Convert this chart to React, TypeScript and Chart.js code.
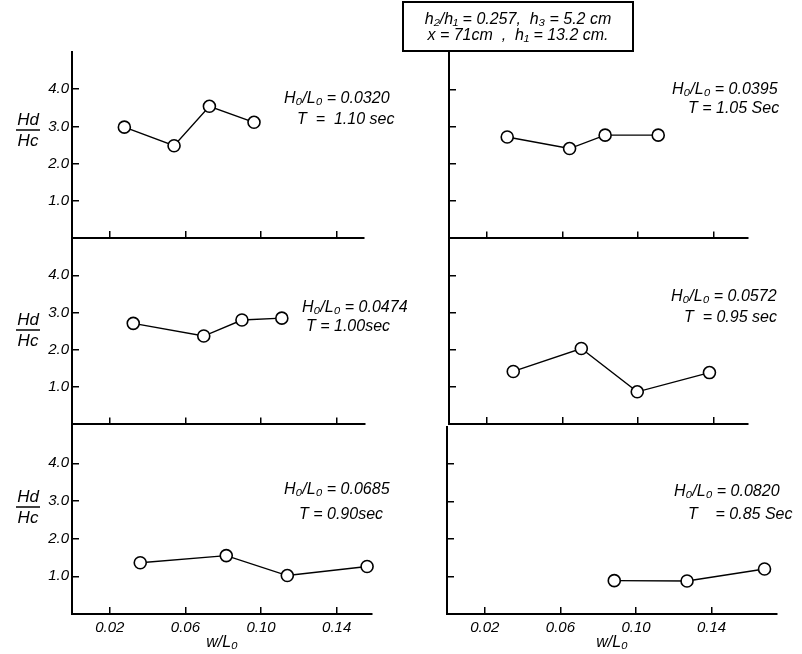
import React, { useEffect, useRef } from "react";
import { Chart, registerables } from "chart.js";

Chart.register(...registerables);

// ---- data ----
const xTickValues = [0.02, 0.06, 0.1, 0.14];
const yTickValues = [1, 2, 3, 4];

// w/Lo and Hd/Hc for each panel
const wTopLeft = [0.0277, 0.054, 0.0727, 0.0963];
const hTopLeft = [2.98, 2.48, 3.54, 3.11];

const wTopRight = [0.0308, 0.0638, 0.0826, 0.1107];
const hTopRight = [2.72, 2.41, 2.77, 2.77];

const wMidLeft = [0.0324, 0.0697, 0.0899, 0.111];
const hMidLeft = [2.71, 2.37, 2.8, 2.85];

const wMidRight = [0.034, 0.07, 0.0996, 0.1378];
const hMidRight = [1.42, 2.04, 0.87, 1.39];

const wBotLeft = [0.0361, 0.0816, 0.1139, 0.1561];
const hBotLeft = [1.36, 1.55, 1.02, 1.26];

const wBotRight = [0.0885, 0.127, 0.168];
const hBotRight = [0.89, 0.88, 1.2];

const FONT = "'Liberation Sans', 'DejaVu Sans', sans-serif";

type Note = { text: string; x: number; y: number };
type PanelCfg = {
  id: string;
  canvasLeft: number;
  canvasTop: number;
  canvasWidth: number;
  canvasHeight: number;
  axisX: number;
  plotRight: number;
  plotTop: number;
  plotBottom: number;
  xAxisH: number;
  xMax: number;
  xs: number[];
  ys: number[];
  showXLabels: boolean;
  showYLabels: boolean;
  notes: Note[];
  yLabelLine?: number;
  box?: boolean;
};

const panels: PanelCfg[] = [
  {
    id: "tl", canvasLeft: 0, canvasTop: 0, canvasWidth: 420, canvasHeight: 246,
    axisX: 72, plotRight: 364, plotTop: 52, plotBottom: 238, xAxisH: 0, xMax: 0.1545,
    xs: wTopLeft, ys: hTopLeft, showXLabels: false, showYLabels: true,
    notes: [
      { text: "H\u2080/L\u2080 = 0.0320", x: 284, y: 99 },
      { text: "T  =  1.10 sec", x: 297, y: 120 },
    ],
    yLabelLine: 130,
  },
  {
    id: "tr", canvasLeft: 400, canvasTop: 0, canvasWidth: 402, canvasHeight: 246,
    axisX: 449, plotRight: 748, plotTop: 52, plotBottom: 239, xAxisH: 0, xMax: 0.1582,
    xs: wTopRight, ys: hTopRight, showXLabels: false, showYLabels: false,
    notes: [
      { text: "H\u2080/L\u2080 = 0.0395", x: 672, y: 90 },
      { text: "T = 1.05 Sec", x: 688, y: 109 },
    ],
    box: true,
  },
  {
    id: "ml", canvasLeft: 0, canvasTop: 230, canvasWidth: 420, canvasHeight: 202,
    axisX: 72, plotRight: 365, plotTop: 238, plotBottom: 425, xAxisH: 0, xMax: 0.155,
    xs: wMidLeft, ys: hMidLeft, showXLabels: false, showYLabels: true,
    notes: [
      { text: "H\u2080/L\u2080 = 0.0474", x: 302, y: 308 },
      { text: "T = 1.00sec", x: 306, y: 327 },
    ],
    yLabelLine: 330,
  },
  {
    id: "mr", canvasLeft: 400, canvasTop: 230, canvasWidth: 402, canvasHeight: 202,
    axisX: 449, plotRight: 748, plotTop: 239, plotBottom: 424, xAxisH: 0, xMax: 0.1582,
    xs: wMidRight, ys: hMidRight, showXLabels: false, showYLabels: false,
    notes: [
      { text: "H\u2080/L\u2080 = 0.0572", x: 671, y: 297 },
      { text: "T  = 0.95 sec", x: 684, y: 318 },
    ],
  },
  {
    id: "bl", canvasLeft: 0, canvasTop: 418, canvasWidth: 420, canvasHeight: 236,
    axisX: 72, plotRight: 372, plotTop: 425.5, plotBottom: 614, xAxisH: 38, xMax: 0.1587,
    xs: wBotLeft, ys: hBotLeft, showXLabels: true, showYLabels: true,
    notes: [
      { text: "H\u2080/L\u2080 = 0.0685", x: 284, y: 490 },
      { text: "T = 0.90sec", x: 299, y: 515 },
    ],
    yLabelLine: 507,
  },
  {
    id: "br", canvasLeft: 400, canvasTop: 418, canvasWidth: 402, canvasHeight: 236,
    axisX: 447, plotRight: 777, plotTop: 426.5, plotBottom: 614, xAxisH: 38, xMax: 0.1746,
    xs: wBotRight, ys: hBotRight, showXLabels: true, showYLabels: false,
    notes: [
      { text: "H\u2080/L\u2080 = 0.0820", x: 674, y: 492 },
      { text: "T    = 0.85 Sec", x: 688, y: 515 },
    ],
  },
];

function Panel({ cfg }: { cfg: PanelCfg }) {
  const ref = useRef<HTMLCanvasElement | null>(null);

  useEffect(() => {
    const canvas = ref.current;
    if (!canvas) return;
    const yAxisW = cfg.axisX - cfg.canvasLeft;
    const padTop = cfg.plotTop - cfg.canvasTop;
    const padRight = cfg.canvasLeft + cfg.canvasWidth - cfg.plotRight;
    const padBottom = cfg.canvasTop + cfg.canvasHeight - cfg.plotBottom - cfg.xAxisH;

    const decor = {
      id: "decor_" + cfg.id,
      afterDraw(chart: any) {
        const ctx = chart.ctx as CanvasRenderingContext2D;
        const ox = cfg.canvasLeft;
        const oy = cfg.canvasTop;
        ctx.save();
        ctx.fillStyle = "#000";
        ctx.strokeStyle = "#000";
        ctx.textBaseline = "middle";
        ctx.textAlign = "left";
        ctx.font = `italic 16px ${FONT}`;
        cfg.notes.forEach((n) => ctx.fillText(n.text, n.x - ox, n.y - oy));

        if (cfg.yLabelLine !== undefined) {
          const cx = 28 - ox;
          const ly = cfg.yLabelLine - oy;
          ctx.textAlign = "center";
          ctx.font = `italic 17px ${FONT}`;
          ctx.fillText("Hd", cx, ly - 10);
          ctx.fillText("Hc", cx, ly + 11);
          ctx.lineWidth = 1.5;
          ctx.beginPath();
          ctx.moveTo(cx - 12, ly);
          ctx.lineTo(cx + 12, ly);
          ctx.stroke();
        }

        if (cfg.box) {
          const bx = 403 - ox;
          const by = 2 - oy;
          const bw = 230;
          const bh = 49;
          ctx.fillStyle = "#fff";
          ctx.fillRect(bx, by, bw, bh);
          ctx.lineWidth = 2;
          ctx.strokeRect(bx, by, bw, bh);
          ctx.fillStyle = "#000";
          ctx.textAlign = "center";
          ctx.font = `italic 16px ${FONT}`;
          ctx.fillText("h\u2082/h\u2081 = 0.257,  h\u2083 = 5.2 cm", bx + bw / 2, 20 - oy);
          ctx.fillText("x = 71cm  ,  h\u2081 = 13.2 cm.", bx + bw / 2, 36 - oy);
        }
        ctx.restore();
      },
    };

    const chart = new Chart(canvas, {
      type: "scatter",
      data: {
        datasets: [
          {
            data: cfg.xs.map((x, i) => ({ x, y: cfg.ys[i] })),
            showLine: true,
            borderColor: "#000",
            borderWidth: 1.4,
            pointRadius: 6,
            pointBackgroundColor: "#fff",
            pointBorderColor: "#000",
            pointBorderWidth: 1.6,
            tension: 0,
            clip: false as any,
          },
        ],
      },
      options: {
        animation: false,
        responsive: false,
        maintainAspectRatio: false,
        events: [],
        layout: { padding: { left: 0, top: padTop, right: padRight, bottom: padBottom } },
        plugins: { legend: { display: false }, tooltip: { enabled: false } },
        scales: {
          x: {
            type: "linear",
            position: "bottom",
            min: 0,
            max: cfg.xMax,
            afterBuildTicks: (s: any) => {
              s.ticks = xTickValues.map((v) => ({ value: v }));
            },
            afterFit: (s: any) => {
              s.height = cfg.xAxisH;
              s.paddingLeft = 0;
              s.paddingRight = 0;
              s.paddingTop = 0;
              s.paddingBottom = 0;
            },
            grid: {
              display: true,
              drawOnChartArea: false,
              drawTicks: true,
              tickLength: -7,
              color: "#000",
              lineWidth: 1.5,
            },
            border: { display: true, color: "#000", width: 2 },
            ticks: {
              display: cfg.showXLabels,
              padding: 12,
              color: "#000",
              font: { family: FONT, size: 15, style: "italic" },
              callback: (v: any) => Number(v).toFixed(2),
            },
            title: {
              display: cfg.showXLabels,
              text: "w/L\u2080",
              color: "#000",
              font: { family: FONT, size: 16, style: "italic" },
              padding: { top: 0, bottom: 0 },
            },
          },
          y: {
            type: "linear",
            position: "left",
            min: 0,
            max: 5,
            afterBuildTicks: (s: any) => {
              s.ticks = yTickValues.map((v) => ({ value: v }));
            },
            afterFit: (s: any) => {
              s.width = yAxisW;
              s.paddingLeft = 0;
              s.paddingRight = 0;
              s.paddingTop = 0;
              s.paddingBottom = 0;
            },
            grid: {
              display: true,
              drawOnChartArea: false,
              drawTicks: true,
              tickLength: -7,
              color: "#000",
              lineWidth: 1.5,
            },
            border: { display: true, color: "#000", width: 2 },
            ticks: {
              display: cfg.showYLabels,
              padding: 10,
              color: "#000",
              font: { family: FONT, size: 15, style: "italic" },
              callback: (v: any) => Number(v).toFixed(1),
            },
          },
        },
      },
      plugins: [decor],
    } as any);

    return () => chart.destroy();
  }, [cfg]);

  return (
    <canvas
      ref={ref}
      width={cfg.canvasWidth}
      height={cfg.canvasHeight}
      style={{
        position: "absolute",
        left: cfg.canvasLeft,
        top: cfg.canvasTop,
        width: cfg.canvasWidth,
        height: cfg.canvasHeight,
      }}
    />
  );
}

export default function App() {
  return (
    <div
      style={{
        position: "absolute",
        left: 0,
        top: 0,
        width: 802,
        height: 654,
        background: "#fff",
        overflow: "hidden",
      }}
    >
      {panels.map((p) => (
        <Panel key={p.id} cfg={p} />
      ))}
    </div>
  );
}
